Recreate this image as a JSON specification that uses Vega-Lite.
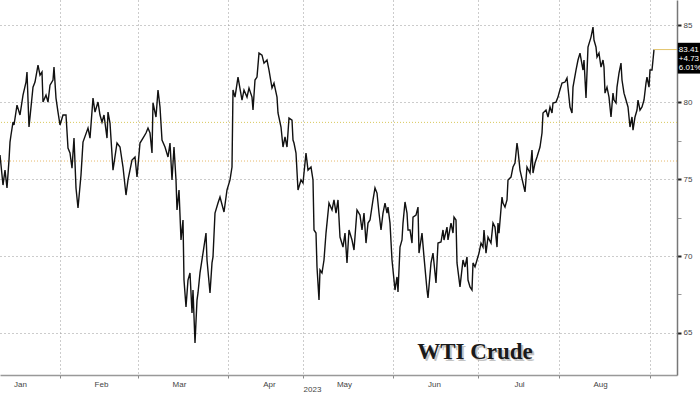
{
  "$schema": "https://vega.github.io/schema/vega-lite/v6.json",
  "width": 677,
  "height": 375,
  "autosize": {"type": "none"},
  "padding": {"left": 0, "top": 0, "right": 23, "bottom": 19},
  "background": "white",
  "config": {"view": {"stroke": null}, "font": "Liberation Sans"},
  "datasets": {
    "wti": [
      {"t":0,"p":76.56},{"t":0.75,"p":74.61},{"t":1.25,"p":75.58},{"t":1.75,"p":74.42},{"t":2.25,"p":76.23},{"t":2.5,"p":77.40},{"t":2.75,"p":77.86},{"t":3.25,"p":78.70},{"t":3.5,"p":78.51},{"t":4.25,"p":79.80},{"t":5,"p":79.16},{"t":5.75,"p":80.45},{"t":6.5,"p":81.30},{"t":6.75,"p":81.95},{"t":7.25,"p":78.38},{"t":8.25,"p":80.97},{"t":8.75,"p":81.30},{"t":9.5,"p":82.40},{"t":10,"p":81.75},{"t":10.5,"p":81.95},{"t":10.75,"p":80.00},{"t":11.5,"p":80.45},{"t":12,"p":80.00},{"t":12.5,"p":81.10},{"t":13.25,"p":81.43},{"t":13.5,"p":82.27},{"t":14,"p":80.26},{"t":14.5,"p":79.35},{"t":15,"p":78.51},{"t":15.75,"p":79.16},{"t":16.5,"p":79.16},{"t":17,"p":77.01},{"t":17.5,"p":76.69},{"t":18,"p":75.71},{"t":18.5,"p":77.66},{"t":19,"p":74.42},{"t":19.5,"p":73.12},{"t":20.25,"p":75.26},{"t":20.75,"p":77.40},{"t":22,"p":78.31},{"t":22.5,"p":77.66},{"t":23.25,"p":80.26},{"t":23.75,"p":79.35},{"t":24.5,"p":80.00},{"t":25,"p":79.16},{"t":25.5,"p":78.70},{"t":26,"p":79.16},{"t":26.75,"p":77.66},{"t":27,"p":79.35},
      {"t":27.5,"p":78.64},{"t":28.25,"p":75.58},{"t":29.25,"p":77.34},{"t":30,"p":77.08},{"t":30.75,"p":75.78},{"t":31.5,"p":73.96},{"t":32,"p":74.94},{"t":33,"p":76.23},{"t":33.75,"p":76.43},{"t":34.25,"p":75.13},{"t":35,"p":77.34},{"t":35.75,"p":77.66},{"t":36.5,"p":77.99},{"t":37,"p":78.31},{"t":37.5,"p":77.99},{"t":38,"p":76.69},{"t":38.25,"p":79.94},{"t":39,"p":79.03},{"t":39.5,"p":80.78},{"t":40,"p":79.68},{"t":40.5,"p":77.53},{"t":41.25,"p":77.08},{"t":42,"p":76.43},{"t":42.5,"p":77.34},{"t":43,"p":74.94},{"t":43.5,"p":77.08},{"t":44,"p":74.94},{"t":44.25,"p":72.99},{"t":44.75,"p":74.29},{"t":45.25,"p":71.04},{"t":45.75,"p":72.34},{"t":46,"p":68.44},{"t":46.5,"p":66.69},{"t":47,"p":68.44},{"t":47.5,"p":68.90},{"t":48,"p":66.30},{"t":48.25,"p":67.79},{"t":48.75,"p":64.35},{"t":49.25,"p":67.14},{"t":49.5,"p":67.60},{"t":50,"p":68.90},{"t":50.75,"p":70.19},{"t":51.5,"p":71.49},{"t":51.75,"p":69.74},{"t":52.5,"p":67.60},{"t":53,"p":69.55},{"t":53.25,"p":69.94},{"t":53.75,"p":72.79},{"t":54.5,"p":73.44},{"t":55,"p":73.83},{"t":56,"p":72.86},{"t":56.75,"p":74.29},{"t":57.5,"p":74.94},{"t":58,"p":75.78},
      {"t":58.25,"p":80.78},{"t":58.75,"p":80.32},{"t":59.5,"p":81.62},{"t":60.5,"p":80.13},{"t":61,"p":80.78},{"t":61.75,"p":80.32},{"t":62.25,"p":80.91},{"t":63,"p":80.32},{"t":63.25,"p":79.48},{"t":63.75,"p":81.43},{"t":64.25,"p":81.62},{"t":64.75,"p":83.18},{"t":65.5,"p":83.05},{"t":66,"p":82.53},{"t":66.75,"p":82.73},{"t":67.25,"p":82.08},{"t":68,"p":80.91},{"t":68.5,"p":81.23},{"t":69.25,"p":80.32},{"t":69.5,"p":79.29},{"t":70.25,"p":78.38},{"t":70.75,"p":77.08},{"t":71.25,"p":77.73},{"t":71.75,"p":77.08},{"t":72.25,"p":78.96},{"t":73,"p":78.83},{"t":73.25,"p":77.53},{"t":73.5,"p":77.34},{"t":74,"p":76.69},{"t":74.5,"p":74.29},{"t":75.25,"p":74.94},{"t":75.75,"p":74.74},{"t":76.5,"p":76.69},{"t":77,"p":75.58},{"t":77.75,"p":75.78},{"t":78.25,"p":74.94},{"t":78.5,"p":71.69},{"t":79,"p":71.49},{"t":79.25,"p":69.29},{"t":79.75,"p":67.14},{"t":80,"p":69.09},{"t":80.5,"p":68.90},{"t":81,"p":69.74},{"t":81.5,"p":71.49},{"t":82.25,"p":73.44},{"t":83,"p":72.99},{"t":83.5,"p":73.64},{"t":84,"p":72.79},{"t":84.5,"p":73.64},
      {"t":85,"p":71.23},{"t":85.75,"p":70.58},{"t":86.25,"p":71.49},{"t":86.75,"p":69.55},{"t":87.25,"p":71.69},{"t":88,"p":71.04},{"t":88.5,"p":70.39},{"t":89.25,"p":72.99},{"t":90,"p":72.66},{"t":90.5,"p":71.69},{"t":91,"p":72.79},{"t":91.5,"p":70.84},{"t":92,"p":72.14},{"t":92.5,"p":72.34},{"t":93.25,"p":73.64},{"t":93.75,"p":74.42},{"t":94.25,"p":74.09},{"t":94.75,"p":72.79},{"t":95.25,"p":71.69},{"t":95.75,"p":72.79},{"t":96.25,"p":73.44},{"t":96.75,"p":72.79},{"t":97,"p":73.18},{"t":97.5,"p":72.14},{"t":98,"p":69.74},{"t":98.25,"p":69.09},{"t":98.75,"p":67.79},{"t":99.25,"p":68.64},{"t":99.5,"p":67.66},{"t":100,"p":70.58},{"t":100.5,"p":71.04},{"t":100.75,"p":72.14},{"t":101.25,"p":73.51},{"t":101.75,"p":72.79},{"t":102,"p":71.69},{"t":102.5,"p":71.69},{"t":103,"p":70.84},{"t":103.25,"p":72.53},{"t":104,"p":72.66},{"t":104.5,"p":73.18},{"t":104.75,"p":70.19},{"t":105.5,"p":71.49},{"t":106,"p":69.94},{"t":106.75,"p":67.79},{"t":107,"p":67.27},{"t":107.75,"p":69.55},{"t":108.25,"p":70.19},{"t":109,"p":68.25},{"t":109.5,"p":70.84},{"t":110.25,"p":70.91},{"t":110.75,"p":71.69},{"t":111,"p":71.04},{"t":111.75,"p":71.88},{"t":112,"p":71.04},{"t":112.75,"p":72.14},{"t":113.25,"p":71.49},{"t":113.5,"p":72.53},{"t":114,"p":72.34},{"t":114.25,"p":69.55},{"t":115,"p":67.99},{"t":115.75,"p":69.74},{"t":116.25,"p":69.29},{"t":116.75,"p":69.94},{"t":117,"p":68.44},
      {"t":117.5,"p":67.99},{"t":118,"p":67.79},{"t":118.25,"p":69.55},{"t":118.75,"p":69.29},{"t":119.25,"p":69.74},{"t":119.75,"p":70.19},{"t":120.25,"p":70.84},{"t":120.75,"p":70.58},{"t":121,"p":71.69},{"t":121.5,"p":70.19},{"t":122,"p":71.23},{"t":122.75,"p":70.84},{"t":123.25,"p":72.14},{"t":123.75,"p":71.88},{"t":124.25,"p":70.58},{"t":124.5,"p":72.14},{"t":124.75,"p":71.49},{"t":125.5,"p":73.83},{"t":125.75,"p":73.44},{"t":126.25,"p":73.18},{"t":126.75,"p":73.64},{"t":127,"p":74.94},{"t":127.75,"p":75.13},{"t":128.25,"p":75.78},{"t":128.75,"p":76.04},{"t":129.25,"p":77.34},{"t":129.5,"p":76.88},{"t":130,"p":75.58},{"t":130.75,"p":74.74},{"t":131.25,"p":74.16},{"t":131.75,"p":75.78},{"t":132.5,"p":75.39},{"t":133,"p":76.88},{"t":133.25,"p":75.39},{"t":133.75,"p":76.04},{"t":134.25,"p":76.43},{"t":135,"p":77.08},{"t":135.5,"p":77.99},{"t":135.75,"p":79.29},{"t":136.5,"p":79.48},{"t":137,"p":79.03},{"t":137.5,"p":79.68},{"t":138,"p":79.29},{"t":138.25,"p":79.94},{"t":139,"p":80.00},{"t":139.5,"p":80.32},{"t":139.75,"p":80.58},
      {"t":140.5,"p":81.23},{"t":141.25,"p":81.30},{"t":141.75,"p":81.56},{"t":142.5,"p":79.68},{"t":143,"p":79.29},{"t":143.25,"p":80.97},{"t":144,"p":82.08},{"t":144.5,"p":82.73},{"t":145,"p":83.18},{"t":145.75,"p":82.08},{"t":146,"p":82.73},{"t":146.5,"p":80.26},{"t":147,"p":83.57},{"t":147.75,"p":84.22},{"t":148.25,"p":84.87},{"t":148.5,"p":84.03},{"t":149,"p":83.57},{"t":149.25,"p":82.92},{"t":149.75,"p":83.18},{"t":150.25,"p":82.27},{"t":150.75,"p":82.73},{"t":151,"p":82.27},{"t":151.25,"p":80.58},{"t":151.75,"p":80.97},{"t":152.25,"p":80.32},{"t":152.75,"p":79.03},{"t":153.25,"p":80.58},{"t":153.5,"p":80.13},{"t":154,"p":79.94},{"t":154.25,"p":80.97},{"t":154.75,"p":81.88},{"t":155.25,"p":82.53},{"t":155.5,"p":81.43},{"t":156,"p":80.58},{"t":156.5,"p":80.13},{"t":157,"p":79.68},{"t":157.5,"p":78.38},{"t":158,"p":79.03},{"t":158.25,"p":78.18},{"t":158.75,"p":79.03},{"t":159.25,"p":79.48},{"t":159.5,"p":80.13},{"t":160,"p":79.48},{"t":160.5,"p":79.68},{"t":161,"p":80.13},{"t":161.5,"p":81.23},{"t":161.75,"p":81.62},{"t":162.25,"p":80.97},{"t":162.5,"p":82.08},{"t":163,"p":82.08},{"t":163.25,"p":82.73},{"t":163.5,"p":83.41}
    ],
    "tags": [
      {"label": "83.41", "p": 83.38},
      {"label": "+4.73", "p": 82.8},
      {"label": "6.01%", "p": 82.2}
    ],
    "title": [{"name": "WTI Crude"}],
    "one": [{}]
  },
  "layer": [
    {
      "data": {"name": "one"},
      "mark": {"type": "rule", "color": "#d9c95c", "strokeWidth": 1, "strokeDash": [1, 2]},
      "encoding": {"y": {"datum": 78.68, "type": "quantitative", "scale": {"domain": [62.27, 86.63], "nice": false, "zero": false}}}
    },
    {
      "data": {"name": "one"},
      "mark": {"type": "rule", "color": "#e6b86a", "strokeWidth": 1, "strokeDash": [1, 2]},
      "encoding": {"y": {"datum": 76.17, "type": "quantitative", "scale": {"domain": [62.27, 86.63], "nice": false, "zero": false}}}
    },
    {
      "data": {"name": "wti"},
      "mark": {"type": "line", "color": "#111", "strokeWidth": 1.4},
      "encoding": {
        "x": {
          "field": "t", "type": "quantitative",
          "scale": {"domain": [0, 169.25], "nice": false, "zero": false},
          "axis": {
            "title": "2023", "titleFontSize": 8, "titleFontWeight": "normal", "titleColor": "#444",
            "titleX": 312, "titleY": 10,
            "values": [0, 15, 34.5, 57, 75.75, 98.25, 119.5, 139.75, 162.5],
            "labelExpr": "datum.value < 1 ? 'Jan' : datum.value < 20 ? 'Feb' : datum.value < 40 ? 'Mar' : datum.value < 60 ? 'Apr' : datum.value < 80 ? 'May' : datum.value < 100 ? 'Jun' : datum.value < 120 ? 'Jul' : datum.value < 150 ? 'Aug' : ''",
            "labelOffset": {"condition": {"test": "datum.value < 1", "value": 20}, "value": 41},
            "labelFontSize": 8, "labelColor": "#444", "labelPadding": 2, "labelFlush": false, "labelOverlap": false,
            "tickSize": 3, "tickColor": "#888",
            "tickOpacity": {"condition": {"test": "datum.value < 1", "value": 0}, "value": 1},
            "grid": true, "gridDash": [1, 3], "gridColor": "#999",
            "gridOpacity": {"condition": {"test": "datum.value < 1", "value": 0}, "value": 1},
            "domainColor": "#999", "domainWidth": 1.5
          }
        },
        "y": {
          "field": "p", "type": "quantitative",
          "scale": {"domain": [62.27, 86.63], "nice": false, "zero": false},
          "axis": {
            "orient": "right", "title": null,
            "values": [65, 67.5, 70, 72.5, 75, 77.5, 80, 82.5, 85],
            "labelExpr": "datum.value % 5 == 0 ? datum.label : ''",
            "labelFontSize": 8, "labelColor": "#444", "labelPadding": 2, "labelFlush": false,
            "tickSize": 4,
            "tickColor": {"condition": {"test": "datum.value % 5 == 0", "value": "#222"}, "value": "#999"},
            "tickWidth": {"condition": {"test": "datum.value % 5 == 0", "value": 2}, "value": 1},
            "grid": true, "gridDash": [1, 3], "gridColor": "#999",
            "gridOpacity": {"condition": {"test": "datum.value % 5 == 0", "value": 1}, "value": 0},
            "domainColor": "#777", "domainWidth": 1.5
          }
        }
      }
    },
    {
      "data": {"name": "one"},
      "mark": {"type": "rule", "color": "#e3c46a", "strokeWidth": 1},
      "encoding": {
        "x": {"datum": 163.5, "type": "quantitative", "scale": {"domain": [0, 169.25], "nice": false, "zero": false}},
        "x2": {"datum": 169.25},
        "y": {"datum": 83.41, "type": "quantitative", "scale": {"domain": [62.27, 86.63], "nice": false, "zero": false}}
      }
    },
    {
      "data": {"name": "one"},
      "mark": {"type": "rect", "color": "#000", "clip": false},
      "encoding": {
        "x": {"datum": 169.45, "type": "quantitative", "scale": {"domain": [0, 169.25], "nice": false, "zero": false}},
        "x2": {"datum": 176},
        "y": {"datum": 83.85, "type": "quantitative", "scale": {"domain": [62.27, 86.63], "nice": false, "zero": false}},
        "y2": {"datum": 81.85}
      }
    },
    {
      "data": {"name": "tags"},
      "mark": {"type": "text", "color": "#fff", "align": "left", "baseline": "middle", "fontSize": 8, "font": "Liberation Sans"},
      "encoding": {
        "x": {"datum": 169.7, "type": "quantitative", "scale": {"domain": [0, 169.25], "nice": false, "zero": false}},
        "y": {"field": "p", "type": "quantitative", "title": null, "scale": {"domain": [62.27, 86.63], "nice": false, "zero": false}},
        "text": {"field": "label"}
      }
    },
    {
      "data": {"name": "title"},
      "mark": {"type": "text", "color": "#888", "opacity": 0.5, "dx": 2, "dy": 2, "align": "center", "baseline": "middle", "fontSize": 23, "fontWeight": "bold", "font": "Liberation Serif"},
      "encoding": {
        "x": {"datum": 118.75, "type": "quantitative", "scale": {"domain": [0, 169.25], "nice": false, "zero": false}},
        "y": {"datum": 63.77, "type": "quantitative", "scale": {"domain": [62.27, 86.63], "nice": false, "zero": false}},
        "text": {"field": "name"}
      }
    },
    {
      "data": {"name": "title"},
      "mark": {"type": "text", "color": "#1a1a1a", "align": "center", "baseline": "middle", "fontSize": 23, "fontWeight": "bold", "font": "Liberation Serif"},
      "encoding": {
        "x": {"datum": 118.75, "type": "quantitative", "scale": {"domain": [0, 169.25], "nice": false, "zero": false}},
        "y": {"datum": 63.77, "type": "quantitative", "scale": {"domain": [62.27, 86.63], "nice": false, "zero": false}},
        "text": {"field": "name"}
      }
    }
  ]
}
